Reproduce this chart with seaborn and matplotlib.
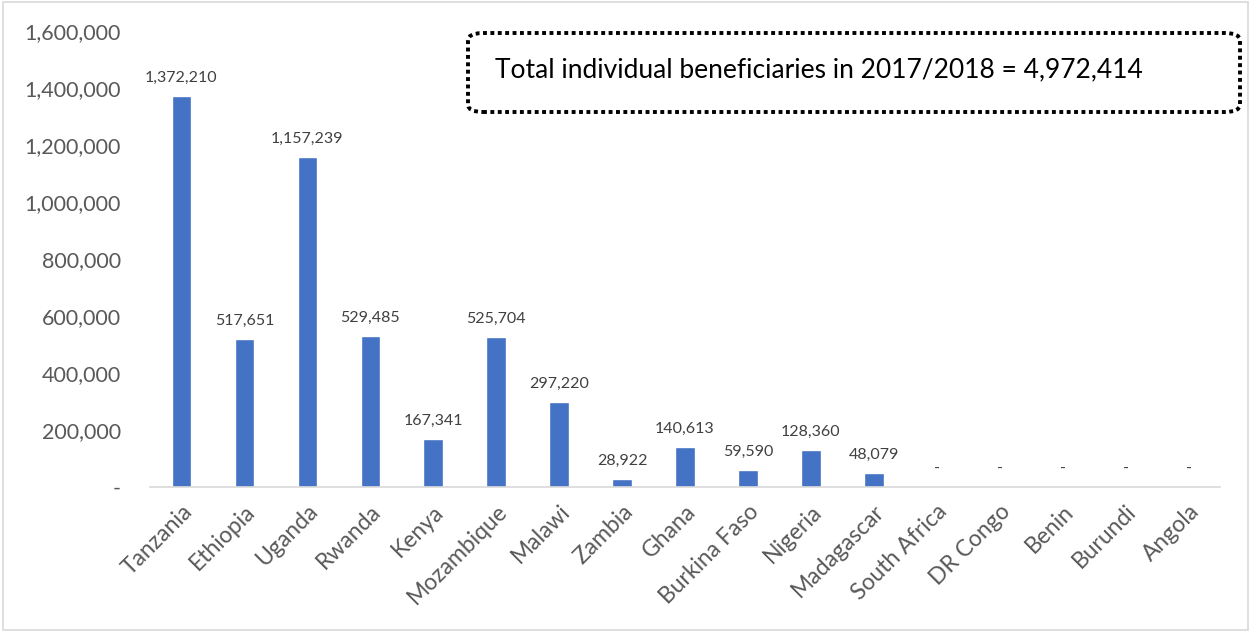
import matplotlib
matplotlib.use("Agg")
import matplotlib.pyplot as plt
import seaborn as sns
import pandas as pd
from matplotlib.patches import FancyBboxPatch, Rectangle
from matplotlib.ticker import FuncFormatter

countries = ["Tanzania", "Ethiopia", "Uganda", "Rwanda", "Kenya", "Mozambique",
             "Malawi", "Zambia", "Ghana", "Burkina Faso", "Nigeria", "Madagascar",
             "South Africa", "DR Congo", "Benin", "Burundi", "Angola"]
beneficiaries = [1372210, 517651, 1157239, 529485, 167341, 525704,
                 297220, 28922, 140613, 59590, 128360, 48079,
                 0, 0, 0, 0, 0]
y_ticks = [0, 200000, 400000, 600000, 800000, 1000000, 1200000, 1400000, 1600000]
total_text = "Total individual beneficiaries in 2017/2018 = 4,972,414"

df = pd.DataFrame({"country": countries, "beneficiaries": beneficiaries})

sns.set_style("white")
plt.rcParams["font.family"] = ["Lato", "DejaVu Sans"]

fig = plt.figure(figsize=(12.5, 6.32), dpi=100)
ax = fig.add_axes([0.12, 0.2294, 0.856, 0.7216])

sns.barplot(data=df, x="country", y="beneficiaries", color="#4472C4",
            width=0.31, saturation=1, ax=ax)

ax.set_ylim(0, 1600000)
ax.set_xlim(-0.5, len(countries) - 0.5)
ax.set_yticks(y_ticks)
ax.yaxis.set_major_formatter(FuncFormatter(lambda v, p: "-" if v == 0 else f"{int(v):,}"))
ax.set_xlabel("")
ax.set_ylabel("")

for s in ["top", "right", "left"]:
    ax.spines[s].set_visible(False)
ax.spines["bottom"].set_color("#D9D9D9")
ax.spines["bottom"].set_linewidth(1.2)
ax.tick_params(axis="both", length=0)
ax.tick_params(axis="y", labelsize=15.5, labelcolor="#595959", pad=21)
plt.setp(ax.get_xticklabels(), rotation=45, ha="right", rotation_mode="anchor",
         fontsize=16.5, color="#595959")
ax.tick_params(axis="x", pad=10)

# value labels above each bar
for i, v in enumerate(beneficiaries):
    label = "-" if v == 0 else f"{v:,}"
    ax.annotate(label, (i, v), xytext=(0, 8), textcoords="offset points",
                ha="center", va="bottom", fontsize=11.5, color="#404040")

# dotted summary box
box = FancyBboxPatch((468 / 1250, 1 - 112 / 632), (1240 - 468) / 1250, (112 - 33) / 632,
                     boxstyle="round,pad=0,rounding_size=0.012",
                     transform=fig.transFigure, fill=False, edgecolor="black",
                     linewidth=2.8, linestyle=(0, (1, 0.9)))
fig.add_artist(box)
fig.text(495 / 1250, 1 - 70 / 632, total_text, fontsize=19, color="black",
         ha="left", va="center")

# chart-area border
fig.add_artist(Rectangle((0.002, 0.003), 0.996, 0.994, transform=fig.transFigure,
                         fill=False, edgecolor="#D9D9D9", linewidth=1.2))

fig.savefig("out.png", dpi=100)
